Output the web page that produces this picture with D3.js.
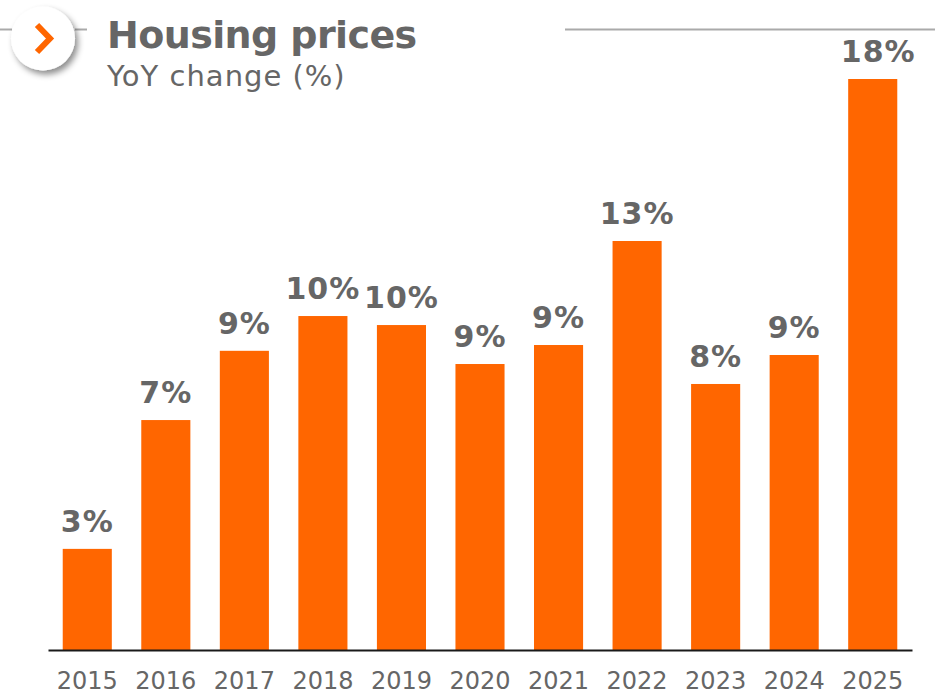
<!DOCTYPE html>
<html>
<head>
<meta charset="utf-8">
<title>Housing prices</title>
<script src="https://cdn.jsdelivr.net/npm/d3@7"></script>
<style>
html, body { margin: 0; padding: 0; background: #fff; }
svg { display: block; font-family: "DejaVu Sans", sans-serif; }
</style>
</head>
<body>
<svg id="chart" width="935" height="700"></svg>
<script>
// values, labels are the rounded ones printed above them
var years = ["2015", "2016", "2017", "2018", "2019", "2020", "2021", "2022", "2023", "2024", "2025"];
var changes = [3.14, 7.14, 9.29, 10.37, 10.09, 8.88, 9.47, 12.7, 8.26, 9.16, 17.73];
var labels = ["3%", "7%", "9%", "10%", "10%", "9%", "9%", "13%", "8%", "9%", "18%"];

var grey = "#666666", orange = "#ff6600";

var svg = d3.select("#chart");

var x = d3.scaleBand()
    .domain(years)
    .range([48, 912])
    .paddingInner(0.375)
    .paddingOuter(0.1875);

var y = d3.scaleLinear()
    .domain([0, d3.max(changes)])
    .range([650, 79]);

// header rules
var rules = [[0, 12], [75, 87], [565, 935]];
svg.selectAll(".rule")
    .data(rules)
    .enter().append("line")
    .attr("class", "rule")
    .attr("x1", function (d) { return d[0]; })
    .attr("x2", function (d) { return d[1]; })
    .attr("y1", 29.5)
    .attr("y2", 29.5)
    .attr("stroke", "#aaaaaa")
    .attr("stroke-width", 2);

// round badge with the chevron
var defs = svg.append("defs");
var shadow = defs.append("filter")
    .attr("id", "shadow")
    .attr("x", "-30%").attr("y", "-30%")
    .attr("width", "170%").attr("height", "170%");
shadow.append("feDropShadow")
    .attr("dx", 3).attr("dy", 4)
    .attr("stdDeviation", 3)
    .attr("flood-color", "#000")
    .attr("flood-opacity", 0.45);

svg.append("circle")
    .attr("cx", 43)
    .attr("cy", 38.5)
    .attr("r", 32)
    .attr("fill", "#fff")
    .attr("filter", "url(#shadow)");

svg.append("path")
    .attr("d", "M37,25L50,38.5L37,52")
    .attr("fill", "none")
    .attr("stroke", orange)
    .attr("stroke-width", 6);

// titles, spacing evens out the width against the original font
svg.append("text")
    .attr("x", 107)
    .attr("y", 48)
    .attr("fill", grey)
    .style("font-size", "38px")
    .style("font-weight", "bold")
    .style("letter-spacing", "-0.6px")
    .text("Housing prices");

svg.append("text")
    .attr("x", 107)
    .attr("y", 85.5)
    .attr("fill", grey)
    .style("font-size", "29px")
    .style("letter-spacing", "1px")
    .text("YoY change (%)");

// bars
svg.selectAll(".bar")
    .data(changes)
    .enter().append("rect")
    .attr("class", "bar")
    .attr("x", function (d, i) { return x(years[i]); })
    .attr("y", function (d) { return y(d); })
    .attr("width", x.bandwidth())
    .attr("height", function (d) { return y(0) - y(d); })
    .attr("fill", orange);

// value labels, the last one sits a bit to the right of its bar
svg.selectAll(".value")
    .data(changes)
    .enter().append("text")
    .attr("class", "value")
    .attr("x", function (d, i) {
        var cx = x(years[i]) + x.bandwidth() / 2;
        return i == years.length - 1 ? cx + 5.5 : cx;
    })
    .attr("y", function (d) { return y(d) - 17; })
    .attr("text-anchor", "middle")
    .attr("fill", grey)
    .style("font-size", "30px")
    .style("font-weight", "bold")
    .style("letter-spacing", "1px")
    .text(function (d, i) { return labels[i]; });

// x axis
var axis = svg.append("g")
    .attr("transform", "translate(0,650)")
    .call(d3.axisBottom(x).tickSize(0).tickPadding(22));

axis.select(".domain")
    .attr("stroke", "#1a1a1a")
    .attr("stroke-width", 2);

axis.selectAll("text")
    .attr("fill", grey)
    .style("font-family", "\"DejaVu Sans\", sans-serif")
    .style("font-size", "24px");
</script>
</body>
</html>
